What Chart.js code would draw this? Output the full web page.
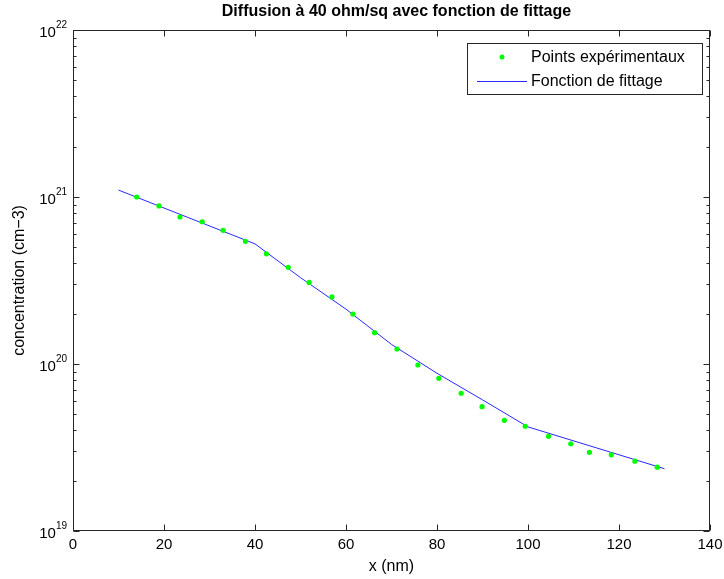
<!DOCTYPE html>
<html>
<head>
<meta charset="utf-8">
<title>Diffusion à 40 ohm/sq</title>
<script src="https://cdn.jsdelivr.net/npm/chart.js@4.4.0/dist/chart.umd.min.js"></script>
<style>
  html, body { margin: 0; padding: 0; background: #fff; }
  #wrap { width: 724px; height: 579px; }
</style>
</head>
<body>
<div id="wrap"><canvas id="chart" width="724" height="579"></canvas></div>
<script>
const pointsX = [14.0, 18.9, 23.5, 28.4, 33.0, 37.9, 42.5, 47.3, 51.9, 56.9, 61.5, 66.3, 71.2,
                 75.8, 80.4, 85.3, 89.9, 94.8, 99.4, 104.5, 109.4, 113.5, 118.3, 123.5, 128.4];
const pointsY = [1.0e21, 8.84e20, 7.59e20, 7.11e20, 6.32e20, 5.43e20, 4.57e20, 3.79e20, 3.08e20,
                 2.52e20, 1.99e20, 1.54e20, 1.23e20, 9.86e19, 8.21e19, 6.68e19, 5.55e19, 4.60e19,
                 4.24e19, 3.69e19, 3.33e19, 2.96e19, 2.86e19, 2.62e19, 2.41e19];

// Fitting function, sampled where it bends
const fitX = [10, 40, 50, 60, 70, 80, 90, 100, 130];
const fitY = [1.10e21, 5.24e20, 3.29e20, 2.13e20, 1.31e20, 8.8e19, 6.1e19, 4.2e19, 2.36e19];

const xTicks = [0, 20, 40, 60, 80, 100, 120, 140];
const yTicks = [1e19, 1e20, 1e21, 1e22];

const titleText = 'Diffusion à 40 ohm/sq avec fonction de fittage';

const FONT = "'Liberation Sans', Arial, Helvetica, sans-serif";

// Title centred over the axes, not over the whole canvas
const axesTitle = {
    id: 'axesTitle',
    afterDraw(chart) {
        const { ctx, chartArea: a } = chart;
        ctx.save();
        ctx.fillStyle = '#000';
        ctx.font = 'bold 16px ' + FONT;
        ctx.textAlign = 'center';
        ctx.textBaseline = 'middle';
        ctx.fillText(titleText, (a.left + a.right) / 2 + 5, 12);
        ctx.restore();
    }
};

// Box with inward ticks on every side, plus the 10^n labels
const frame = {
    id: 'frame',
    afterDraw(chart) {
        const { ctx, chartArea: a, scales: { x, y } } = chart;
        const L = Math.round(a.left) + 0.5, R = Math.round(a.right) - 0.5;
        const T = Math.round(a.top) + 0.5, B = Math.round(a.bottom) - 0.5;
        ctx.save();
        ctx.strokeStyle = '#262626';
        ctx.lineWidth = 1;
        ctx.strokeRect(L, T, R - L, B - T);

        ctx.beginPath();
        x.ticks.forEach(t => {
            const px = Math.round(x.getPixelForValue(t.value)) + 0.5;
            ctx.moveTo(px, B); ctx.lineTo(px, B - 6);
            ctx.moveTo(px, T); ctx.lineTo(px, T + 6);
        });
        for (let d = 19; d <= 22; d++) {
            for (let m = 1; m <= 9; m++) {
                const v = m * Math.pow(10, d);
                if (v > 1e22) break;
                const py = Math.round(y.getPixelForValue(v)) + 0.5;
                const len = m === 1 ? 6 : 3;
                ctx.moveTo(L, py); ctx.lineTo(L + len, py);
                ctx.moveTo(R, py); ctx.lineTo(R - len, py);
            }
        }
        ctx.stroke();

        // y tick labels as 10 with a raised exponent
        ctx.fillStyle = '#000';
        ctx.textBaseline = 'alphabetic';
        y.ticks.forEach(t => {
            const py = y.getPixelForValue(t.value);
            const exp = String(Math.round(Math.log10(t.value)));
            ctx.font = '10px ' + FONT;
            const ew = ctx.measureText(exp).width;
            const ex = a.left - 6 - ew;
            ctx.textAlign = 'left';
            ctx.fillText(exp, ex, py - 2);
            ctx.font = '15px ' + FONT;
            ctx.textAlign = 'right';
            ctx.fillText('10', ex, py + 7);
        });
        ctx.restore();
    }
};

// Legend box in the upper right corner of the axes
const legendBox = {
    id: 'legendBox',
    afterDraw(chart) {
        const { ctx } = chart;
        const ds = chart.data.datasets;
        const bx = 467.5, by = 43.5, bw = 235, bh = 51;
        ctx.save();
        ctx.fillStyle = '#fff';
        ctx.fillRect(bx, by, bw, bh);
        ctx.strokeStyle = '#262626';
        ctx.lineWidth = 1;
        ctx.strokeRect(bx, by, bw, bh);

        ctx.fillStyle = ds[0].backgroundColor;
        ctx.beginPath();
        ctx.arc(502, 57, 2.5, 0, Math.PI * 2);
        ctx.fill();

        ctx.strokeStyle = ds[1].borderColor;
        ctx.beginPath();
        ctx.moveTo(477, 81.5); ctx.lineTo(527, 81.5);
        ctx.stroke();

        ctx.fillStyle = '#000';
        ctx.font = '16px ' + FONT;
        ctx.textAlign = 'left';
        ctx.textBaseline = 'middle';
        ctx.fillText(ds[0].label, 531, 57.5);
        ctx.fillText(ds[1].label, 531, 81.5);
        ctx.restore();
    }
};

new Chart(document.getElementById('chart'), {
    type: 'scatter',
    data: {
        datasets: [
            {
                label: 'Points expérimentaux',
                data: pointsX.map((v, i) => ({ x: v, y: pointsY[i] })),
                backgroundColor: 'rgb(0, 255, 0)',
                borderWidth: 0,
                pointRadius: 2.6,
                showLine: false
            },
            {
                label: 'Fonction de fittage',
                data: fitX.map((v, i) => ({ x: v, y: fitY[i] })),
                borderColor: 'rgb(40, 40, 255)',
                borderWidth: 1,
                pointRadius: 0,
                showLine: true,
                tension: 0
            }
        ]
    },
    options: {
        responsive: false,
        animation: false,
        devicePixelRatio: 1,
        layout: { padding: { left: 0, right: 14, top: 30, bottom: 0 } },
        plugins: {
            legend: { display: false },
            tooltip: { enabled: false },
            title: { display: false }
        },
        scales: {
            x: {
                type: 'linear',
                min: 0,
                max: 140,
                afterBuildTicks: s => { s.ticks = xTicks.map(v => ({ value: v })); },
                afterFit: s => { s.height = 48; s.paddingLeft = 0; s.paddingRight = 0; },
                grid: { display: false, drawTicks: false },
                border: { display: false },
                ticks: { color: '#000', font: { family: FONT, size: 15 }, padding: 5, maxRotation: 0 },
                title: {
                    display: true,
                    text: 'x (nm)',
                    color: '#000',
                    font: { family: FONT, size: 16 },
                    padding: { top: 0, bottom: 3 }
                }
            },
            y: {
                type: 'logarithmic',
                min: 1e19,
                max: 1e22,
                afterBuildTicks: s => { s.ticks = yTicks.map(v => ({ value: v })); },
                afterFit: s => { s.width = 73; s.paddingTop = 0; s.paddingBottom = 0; },
                grid: { display: false, drawTicks: false },
                border: { display: false },
                ticks: { display: false },
                title: {
                    display: true,
                    text: 'concentration (cm−3)',
                    color: '#000',
                    font: { family: FONT, size: 16 },
                    padding: { top: 10, bottom: 0 }
                }
            }
        }
    },
    plugins: [frame, legendBox, axesTitle]
});
</script>
</body>
</html>
